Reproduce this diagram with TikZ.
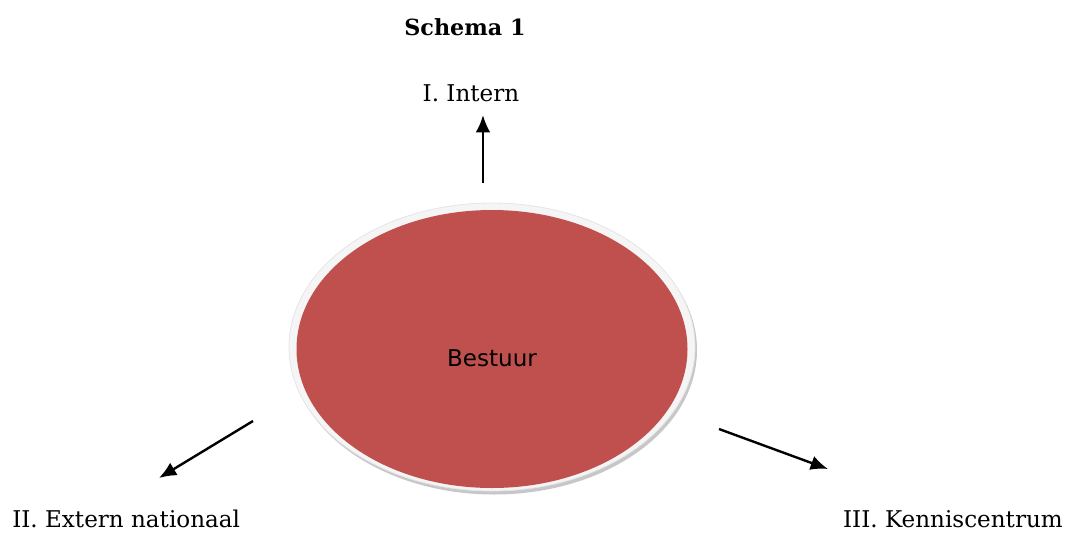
\documentclass[tikz,border=0pt]{standalone}
\usepackage{fontspec}
\setmainfont{DejaVu Serif}
\newfontfamily\bsans{DejaVu Sans}
\usetikzlibrary{shapes.geometric,arrows.meta}
\definecolor{bred}{HTML}{C0504D}
\tikzset{
  lbl/.style={font=\fontsize{17.3}{20}\selectfont, inner sep=0pt},
  conn/.style={line width=1.8pt, -{Latex[length=13pt,width=11pt]}},
}
\begin{document}
\begin{tikzpicture}[x=0.75pt,y=-0.75pt]
\useasboundingbox (0,0) rectangle (1071,533);
% shadow and rim
\node[ellipse, fill=black!22, minimum width=406*0.75pt, minimum height=289*0.75pt, inner sep=0pt] (shadow) at (494,350) {};
\node[ellipse, fill=white!96!black, draw=black!10, line width=0.6pt, minimum width=406*0.75pt, minimum height=288*0.75pt, inner sep=0pt] (rim) at (492,347) {};
\node[ellipse, fill=bred, minimum width=391*0.75pt, minimum height=278*0.75pt, inner sep=0pt] (core) at (492,349) {};
\node[font=\bsans\fontsize{17.3}{20}\selectfont, inner sep=0pt] (bestuur) at (492,358) {Bestuur};
% titles and labels
\node[lbl, font=\bfseries\fontsize{16.7}{20}\selectfont] (title) at (465,27) {Schema 1};
\node[lbl] (intern) at (471,93) {I. Intern};
\node[lbl, anchor=west] (extern) at (12,519) {II. Extern nationaal};
\node[lbl, anchor=east] (kennis) at (1063,519) {III. Kenniscentrum};
% arrow endpoints
\coordinate (a1s) at (483,183);
\coordinate (a1e) at (483,115);
\coordinate (a2s) at (253,421);
\coordinate (a2e) at (159,478);
\coordinate (a3s) at (719,429);
\coordinate (a3e) at (828,469);
\draw[conn] (a1s) -- (a1e);
\draw[conn] (a2s) -- (a2e);
\draw[conn] (a3s) -- (a3e);
\end{tikzpicture}
\end{document}
